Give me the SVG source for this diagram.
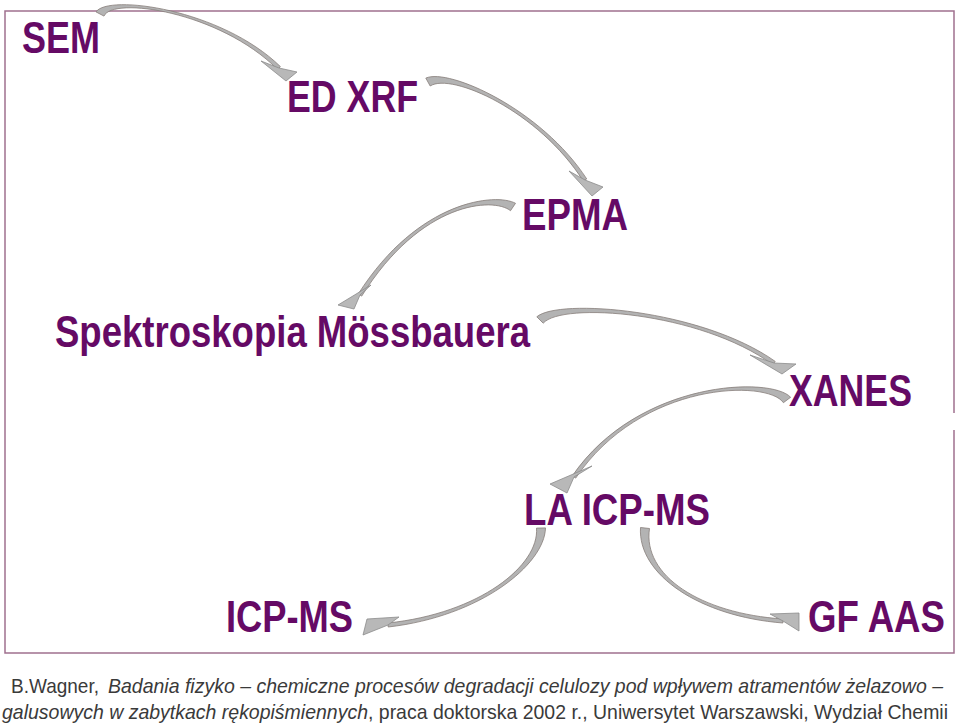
<svg xmlns="http://www.w3.org/2000/svg" width="960" height="727" viewBox="0 0 960 727">
<style>
.lbl{font-family:"Liberation Sans","Arial",sans-serif;font-weight:bold;font-size:45px;fill:#650a65}
.ref{font-family:"Liberation Sans","Arial",sans-serif;font-size:21px;fill:#3a3a3a}
.it{font-style:italic}
.shaft{fill:#b3b3b3;stroke:#867e7a;stroke-width:0.8;stroke-linejoin:round}
.head{fill:#b8b8b8;stroke:#8c8c8c;stroke-width:0.8;stroke-linejoin:miter}
.frame{fill:none;stroke:#a0708f;stroke-width:1.5}
</style>
<rect width="960" height="727" fill="#ffffff"/>
<path class="frame" d="M954,413 V11 H5 V653 H954 V430"/>

<g id="connectors">
  <g id="a1">
    <path class="shaft" d="M96,11.9 C107.8,-6.2 221.1,8.9 280.4,66.6 L277.6,69.4 C218.9,11.1 112.2,-3.8 104,16.1 Z"/>
    <polygon class="head" points="261,61 286,81 297,72 279,68"/>
  </g>
  <g id="a2">
    <path class="shaft" d="M425.8,78.1 C448.8,67.8 541.3,109.2 586.7,178.9 L583.3,181.1 C538.7,110.8 451.2,72.2 430.2,86 Z"/>
    <polygon class="head" points="569,171 592,196 603,187 585,180"/>
  </g>
  <g id="a3">
    <path class="shaft" d="M510.5,210.7 C493.6,197.1 421.3,200.8 361.7,296.1 L358.3,293.9 C418.7,199.2 496.4,192.9 515.5,203.3 Z"/>
    <polygon class="head" points="371,285 338,305 354,309 360,295"/>
  </g>
  <g id="a4">
    <path class="shaft" d="M536.8,316.8 C558.2,298.2 700.9,308.8 775.2,361.4 L772.8,364.6 C699.1,311.2 561.8,301.8 543.2,323.2 Z"/>
    <polygon class="head" points="750,355 782,374 796,364 774,363"/>
  </g>
  <g id="a5">
    <path class="shaft" d="M783.4,402.7 C768,379.5 641.2,380.8 575.7,478.1 L572.3,475.9 C638.8,379.2 772,376.5 790.6,397.3 Z"/>
    <polygon class="head" points="592,466 550,484 567,493 574,477"/>
  </g>
  <g id="a6">
    <path class="shaft" d="M545.5,527.9 C544.5,564.9 480.2,616.5 388.2,627 L387.8,623 C479.8,613.5 539.5,565.1 536.5,528.1 Z"/>
    <polygon class="head" points="399,617 367,619 363,635 388,625"/>
  </g>
  <g id="a7">
    <path class="shaft" d="M649.5,528.5 C642.5,575.3 700.1,613.5 783.1,619 L782.9,623 C699.9,616.5 637.5,574.7 640.5,527.5 Z"/>
    <polygon class="head" points="770,614 799,613 799,631 783,621"/>
  </g>
</g>

<g id="n-sem"><text class="lbl" x="22" y="53" textLength="78" lengthAdjust="spacingAndGlyphs">SEM</text></g>
<g id="n-edxrf"><text class="lbl" x="287" y="112" textLength="131" lengthAdjust="spacingAndGlyphs">ED XRF</text></g>
<g id="n-epma"><text class="lbl" x="522" y="230" textLength="106" lengthAdjust="spacingAndGlyphs">EPMA</text></g>
<g id="n-moss"><text class="lbl" x="55" y="347" textLength="475" lengthAdjust="spacingAndGlyphs">Spektroskopia Mössbauera</text></g>
<g id="n-xanes"><text class="lbl" x="789" y="406" textLength="123" lengthAdjust="spacingAndGlyphs">XANES</text></g>
<g id="n-laicpms"><text class="lbl" x="524" y="525" textLength="186" lengthAdjust="spacingAndGlyphs">LA ICP-MS</text></g>
<g id="n-icpms"><text class="lbl" x="226" y="632" textLength="127" lengthAdjust="spacingAndGlyphs">ICP-MS</text></g>
<g id="n-gfaas"><text class="lbl" x="808" y="632" textLength="137" lengthAdjust="spacingAndGlyphs">GF AAS</text></g>

<g id="reference">
  <text class="ref" x="11" y="693" textLength="88" lengthAdjust="spacingAndGlyphs">B.Wagner,</text>
  <text class="ref it" x="108" y="693" textLength="835" lengthAdjust="spacingAndGlyphs">Badania fizyko – chemiczne procesów degradacji celulozy pod wpływem atramentów żelazowo –</text>
  <text class="ref it" x="2" y="719" textLength="366" lengthAdjust="spacingAndGlyphs">galusowych w zabytkach rękopiśmiennych</text>
  <text class="ref" x="368" y="719" textLength="580" lengthAdjust="spacingAndGlyphs">, praca doktorska 2002 r., Uniwersytet Warszawski, Wydział Chemii</text>
</g>
</svg>
